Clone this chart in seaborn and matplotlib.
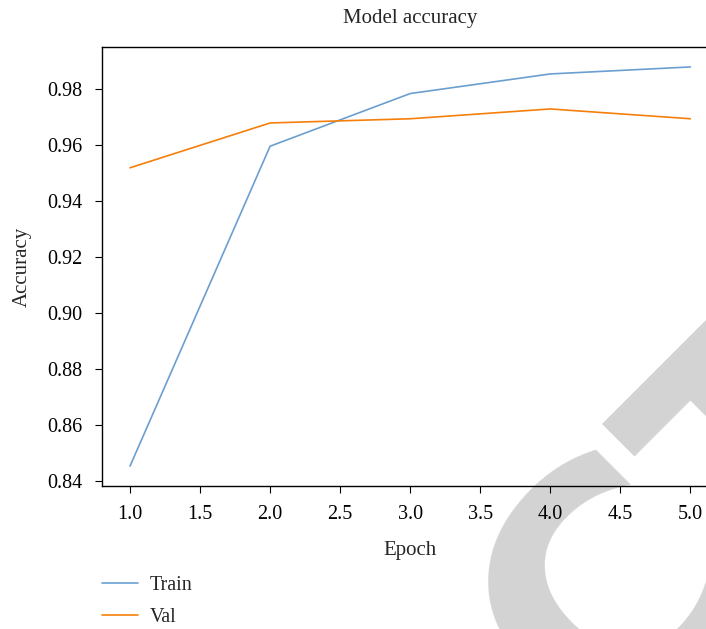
import numpy as np
import pandas as pd
import matplotlib
matplotlib.use('Agg')
import matplotlib.pyplot as plt
import seaborn as sns

# values
epochs = [1, 2, 3, 4, 5]
train_acc = [0.8455, 0.9597, 0.9785, 0.9855, 0.9880]
val_acc = [0.9520, 0.9680, 0.9695, 0.9730, 0.9695]
series_names = ['Train', 'Val']
series_colors = ['#6a9fd0', '#f57f0a']

df = pd.DataFrame({
    'Epoch': epochs * 2,
    'Accuracy': train_acc + val_acc,
    'set': [series_names[0]] * len(epochs) + [series_names[1]] * len(epochs),
})

sns.set_style('ticks')
plt.rcParams['font.family'] = ['Liberation Serif', 'DejaVu Serif']
plt.rcParams['font.size'] = 14
plt.rcParams['axes.linewidth'] = 1.0
plt.rcParams['xtick.major.size'] = 5
plt.rcParams['ytick.major.size'] = 5
plt.rcParams['xtick.major.pad'] = 9
plt.rcParams['ytick.major.pad'] = 9
plt.rcParams['xtick.color'] = 'black'
plt.rcParams['ytick.color'] = 'black'
plt.rcParams['axes.edgecolor'] = 'black'

fig = plt.figure(figsize=(7.06, 6.29), dpi=100)
ax = fig.add_axes([0.1445, 0.2273, 0.873, 0.698])
ax.set_facecolor('none')

sns.lineplot(data=df, x='Epoch', y='Accuracy', hue='set',
             palette=dict(zip(series_names, series_colors)),
             linewidth=1.2, ax=ax)

ax.set_title('Model accuracy', fontsize=15, y=1.0, pad=17)
ax.set_xlabel('Epoch', fontsize=15, labelpad=12)
ax.set_ylabel('Accuracy', fontsize=15, labelpad=11)
ax.tick_params(labelsize=14.5)
ax.set_xticks(np.arange(1.0, 5.01, 0.5))
ax.set_xticklabels([f'{t:.1f}' for t in np.arange(1.0, 5.01, 0.5)])

ax.legend(loc='upper left', bbox_to_anchor=(0.0, -0.205), frameon=False,
          fontsize=14.5, handlelength=1.8, handletextpad=0.55,
          labelspacing=0.62, borderaxespad=0.0, borderpad=0.0)

# grey watermark behind the axes
fig.text(0.625, -0.215, 'RETRACTED', fontsize=235, fontweight='bold',
         family='DejaVu Sans', color='#d3d3d3', rotation=45,
         rotation_mode='anchor', ha='center', va='center', zorder=-1)

fig.savefig('out.png', dpi=100)
